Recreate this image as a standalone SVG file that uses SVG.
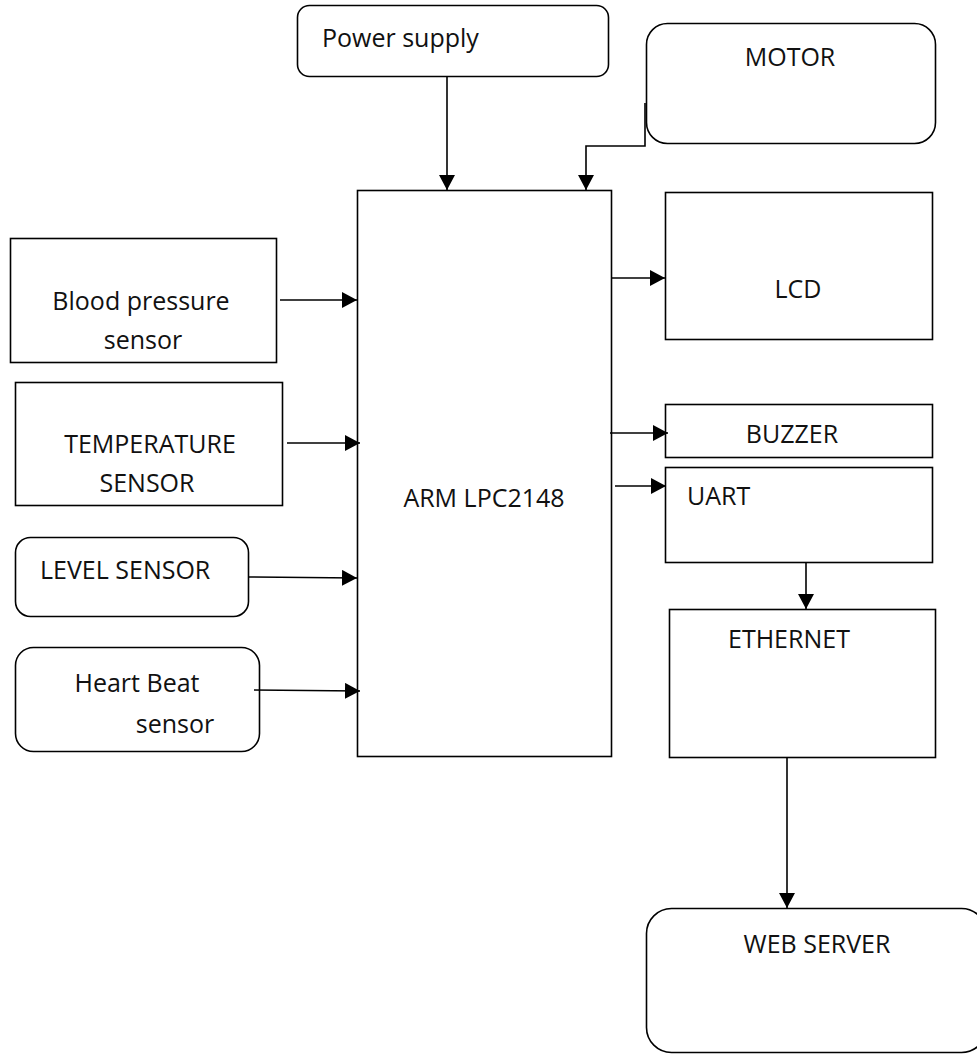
<svg xmlns="http://www.w3.org/2000/svg" width="977" height="1054" viewBox="0 0 977 1054">
<style>
.box{fill:#fff;stroke:#000;stroke-width:1.6}
.t{font-family:"Open Sans","Liberation Sans",sans-serif;font-size:25px;fill:#111}
.m{text-anchor:middle}
.c{fill:none;stroke:#000;stroke-width:1.6}
</style>
<defs>
<marker id="ah" markerUnits="userSpaceOnUse" markerWidth="15" markerHeight="16" refX="15" refY="8" orient="auto">
<path d="M0,0 L15,8 L0,16 z" fill="#000"/>
</marker>
</defs>
<rect width="977" height="1054" fill="#fff"/>
<g id="power"><rect class="box" x="297.5" y="5.5" width="311" height="71" rx="12"/><text class="t" x="322" y="47">Power supply</text></g>
<g id="motor"><rect class="box" x="646.5" y="23.5" width="289" height="120" rx="21"/><text class="t m" x="790" y="66">MOTOR</text></g>
<g id="arm"><rect class="box" x="357.5" y="190.5" width="254" height="566"/><text class="t m" x="484" y="507">ARM LPC2148</text></g>
<g id="bp"><rect class="box" x="10.5" y="238.5" width="266" height="124"/><text class="t m" x="141" y="310">Blood pressure</text><text class="t m" x="143" y="349">sensor</text></g>
<g id="temp"><rect class="box" x="15.5" y="382.5" width="267" height="123"/><text class="t m" x="150" y="453">TEMPERATURE</text><text class="t m" x="147" y="492">SENSOR</text></g>
<g id="level"><rect class="box" x="15.5" y="537.5" width="233" height="79" rx="15"/><text class="t" x="40" y="579">LEVEL SENSOR</text></g>
<g id="heart"><rect class="box" x="15.5" y="647.5" width="244" height="104" rx="18"/><text class="t m" x="137" y="692">Heart Beat</text><text class="t m" x="175" y="733">sensor</text></g>
<g id="lcd"><rect class="box" x="665.5" y="192.5" width="267" height="147"/><text class="t m" x="798" y="298">LCD</text></g>
<g id="buzzer"><rect class="box" x="665.5" y="404.5" width="267" height="53"/><text class="t m" x="792" y="443">BUZZER</text></g>
<g id="uart"><rect class="box" x="665.5" y="467.5" width="267" height="95"/><text class="t" x="687" y="505">UART</text></g>
<g id="ethernet"><rect class="box" x="669.5" y="609.5" width="266" height="148"/><text class="t" x="728" y="648">ETHERNET</text></g>
<g id="webserver"><rect class="box" x="646.5" y="908.5" width="340" height="144" rx="25"/><text class="t m" x="817" y="953">WEB SERVER</text></g>
<g id="connectors">
<line class="c" x1="447" y1="77" x2="447" y2="190" marker-end="url(#ah)"/>
<polyline class="c" points="645,103 645,146 586,146 586,190" marker-end="url(#ah)"/>
<line class="c" x1="280" y1="300" x2="357" y2="300" marker-end="url(#ah)"/>
<line class="c" x1="287" y1="443" x2="360" y2="443" marker-end="url(#ah)"/>
<line class="c" x1="249" y1="577" x2="357" y2="578" marker-end="url(#ah)"/>
<line class="c" x1="254" y1="690" x2="360" y2="691" marker-end="url(#ah)"/>
<line class="c" x1="612" y1="278" x2="665" y2="278" marker-end="url(#ah)"/>
<line class="c" x1="610" y1="433" x2="668" y2="433" marker-end="url(#ah)"/>
<line class="c" x1="615" y1="486" x2="666" y2="486" marker-end="url(#ah)"/>
<line class="c" x1="806" y1="563" x2="806" y2="609" marker-end="url(#ah)"/>
<line class="c" x1="787" y1="758" x2="787" y2="908" marker-end="url(#ah)"/>
</g>
</svg>
